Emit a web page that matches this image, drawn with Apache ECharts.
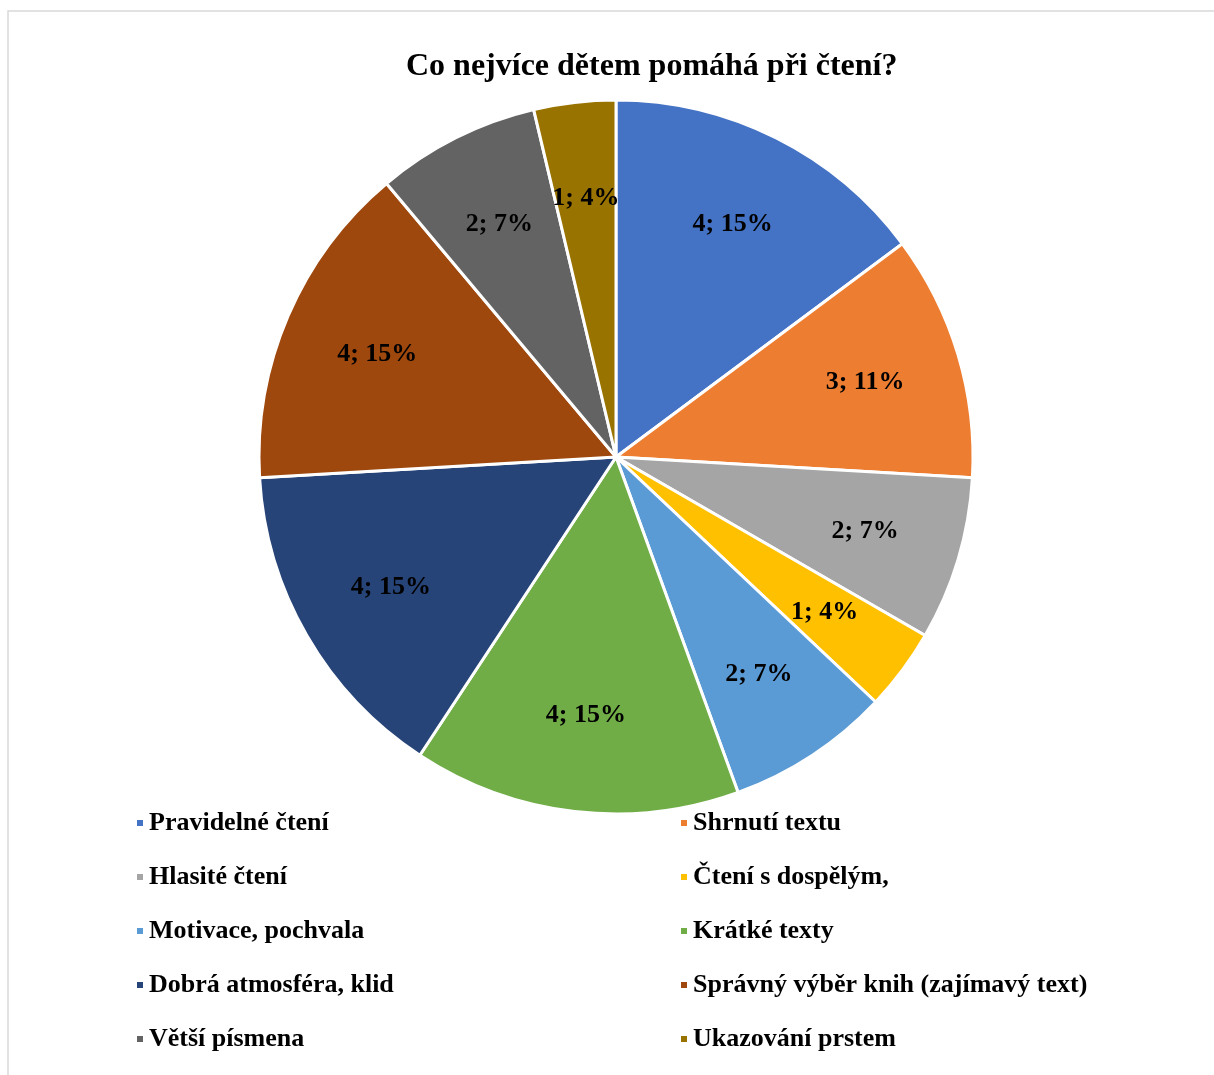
<!DOCTYPE html>
<html>
<head>
<meta charset="utf-8">
<script src="https://cdn.jsdelivr.net/npm/echarts@6/dist/echarts.min.js"></script>
<style>
html,body{margin:0;padding:0;background:#fff;}
#chart{width:1214px;height:1075px;}
</style>
</head>
<body>
<div id="chart"></div>
<script>
const titleText = 'Co nejvíce dětem pomáhá při čtení?';
const categories = ['Pravidelné čtení','Shrnutí textu','Hlasité čtení','Čtení s dospělým,','Motivace, pochvala','Krátké texty','Dobrá atmosféra, klid','Správný výběr knih (zajímavý text)','Větší písmena','Ukazování prstem'];
const values = [4,3,2,1,2,4,4,4,2,1];
const colors = ['#4472C4','#ED7D31','#A5A5A5','#FFC000','#5B9BD5','#70AD47','#264478','#9E480E','#636363','#997300'];

const FONT = '"Liberation Serif", "Times New Roman", serif';
const R = 357;
const data = categories.map((c,i)=>({name:c, value:values[i], itemStyle:{color:colors[i]}}));
const labelData = categories.map((c,i)=>({name:c, value:values[i]}));

const legendText = {fontFamily:FONT, fontWeight:'bold', fontSize:26, lineHeight:26, color:'#000'};
const chart = echarts.init(document.getElementById('chart'), null, {renderer:'canvas'});
chart.setOption({
  animation:false,
  backgroundColor:'#ffffff',
  title:{
    text:titleText,
    left:406, top:51, padding:0,
    textStyle:{fontFamily:FONT, fontWeight:'bold', fontSize:32, color:'#000'}
  },
  graphic:[{
    type:'rect', silent:true, z:-10,
    shape:{x:8, y:11, width:1230, height:1100},
    style:{fill:'none', stroke:'#d9d9d9', lineWidth:1.5}
  }],
  legend:[
    {
      orient:'vertical', left:135, top:810, padding:0, itemWidth:8, itemHeight:8, itemGap:28, icon:'rect',
      data:categories.filter((c,i)=>i%2===0),
      textStyle:legendText
    },
    {
      orient:'vertical', left:679, top:810, padding:0, itemWidth:8, itemHeight:8, itemGap:28, icon:'rect',
      data:categories.filter((c,i)=>i%2===1),
      textStyle:legendText
    }
  ],
  series:[
    {
      type:'pie', center:[616,457], radius:[0,R], startAngle:90, clockwise:true,
      percentPrecision:0,
      itemStyle:{borderColor:'#fff', borderWidth:3},
      label:{show:false}, labelLine:{show:false},
      emphasis:{disabled:true},
      data:data
    },
    {
      type:'pie', center:[616,457], radius:[Math.round(R*0.44),R], startAngle:90, clockwise:true,
      percentPrecision:0, silent:true, legendHoverLink:false,
      itemStyle:{color:'rgba(0,0,0,0)', borderWidth:0},
      label:{show:true, position:'inside', formatter:'{c}; {d}%',
        fontFamily:FONT, fontWeight:'bold', fontSize:26, color:'#000'},
      labelLine:{show:false},
      emphasis:{disabled:true},
      data:labelData
    }
  ]
});
</script>
</body>
</html>
